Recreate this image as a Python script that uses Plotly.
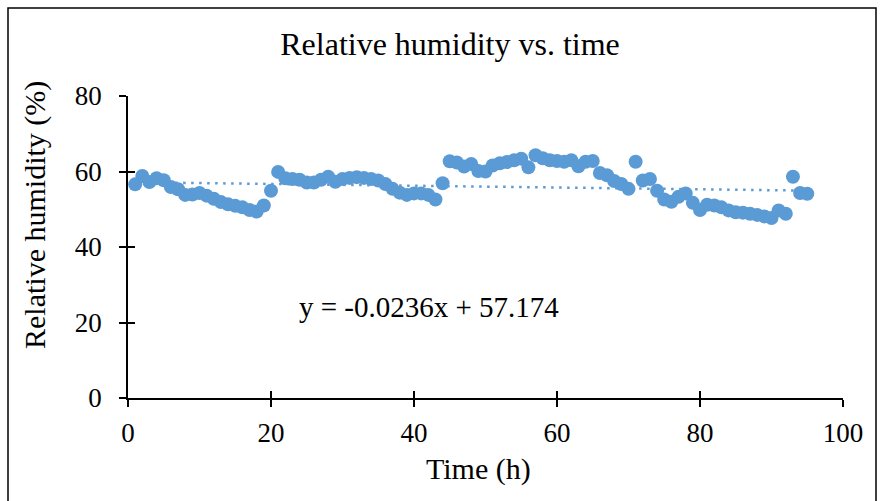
import plotly.graph_objects as go

# Hourly relative humidity readings
time_h = list(range(1, 96))
humidity = [
    56.6, 58.8, 57.2, 58.2, 57.7, 55.9, 55.3, 53.8, 53.9, 54.3,
    53.6, 52.8, 51.9, 51.3, 50.9, 50.5, 49.8, 49.4, 51.0, 54.9,
    59.9, 58.2, 58.0, 57.8, 57.1, 57.1, 57.8, 58.6, 57.3, 58.0,
    58.3, 58.5, 58.3, 58.0, 57.6, 56.7, 55.4, 54.4, 53.8, 54.2,
    54.2, 53.8, 52.6, 56.9, 62.7, 62.4, 61.3, 62.0, 60.1, 60.0,
    61.6, 62.2, 62.5, 63.0, 63.4, 61.1, 64.3, 63.5, 63.0, 62.8,
    62.6, 63.0, 61.4, 62.6, 62.8, 59.6, 59.0, 57.5, 56.7, 55.4,
    62.6, 57.6, 58.0, 54.9, 52.6, 52.0, 53.3, 54.2, 51.7, 49.8,
    51.2, 51.0, 50.5, 49.7, 49.2, 49.1, 48.8, 48.5, 48.1, 47.7,
    49.7, 48.8, 58.6, 54.3, 54.1,
]

# Linear trendline coefficients
trend_slope = -0.0236
trend_intercept = 57.174

x_ticks = [0, 20, 40, 60, 80, 100]
y_ticks = [0, 20, 40, 60, 80]

blue = "#5B9BD5"
font_family = "Liberation Serif, Times New Roman, serif"

# plot-area geometry in pixels
L, R, T, B = 128, 843, 96, 398
W, H = R - L, B - T


def px(xp):
    return (xp - L) / W


def py(yp):
    return (B - yp) / H


trend_x = [min(time_h), max(time_h)]
trend_y = [trend_slope * t + trend_intercept for t in trend_x]

fig = go.Figure()
fig.add_trace(go.Scatter(
    x=trend_x, y=trend_y, mode="lines",
    line=dict(color=blue, width=2.5, dash="2.5px,5.5px"),
    showlegend=False, hoverinfo="skip",
))
fig.add_trace(go.Scatter(
    x=time_h, y=humidity, mode="markers",
    marker=dict(color=blue, size=14, line=dict(width=0)),
    showlegend=False,
))
# invisible trace on the overlay axes so the inward ticks render
fig.add_trace(go.Scatter(
    x=[0], y=[0], xaxis="x2", yaxis="y2", mode="markers",
    marker=dict(opacity=0), showlegend=False, hoverinfo="skip",
))

axis_common = dict(
    showgrid=False, zeroline=False, showline=True,
    linecolor="black", linewidth=1.5,
    ticks="outside", ticklen=7, tickwidth=1.5, tickcolor="black",
    tickfont=dict(family=font_family, size=27, color="black"),
)

fig.update_layout(
    width=881, height=501,
    margin=dict(l=L, r=881 - R, t=T, b=501 - B),
    paper_bgcolor="white", plot_bgcolor="white",
    font=dict(family=font_family, color="black"),
    title=dict(
        text="Relative humidity vs. time",
        x=450 / 881, xanchor="center",
        y=1 - 44 / 501, yanchor="middle",
        font=dict(family=font_family, size=32, color="black"),
    ),
    xaxis=dict(
        range=[0, 100], tickvals=x_ticks, ticklabelstandoff=3,
        **axis_common,
    ),
    yaxis=dict(
        range=[0, 80], tickvals=y_ticks, ticklabelstandoff=12,
        **axis_common,
    ),
    xaxis2=dict(
        overlaying="x", matches="x", range=[0, 100], tickvals=x_ticks,
        showticklabels=False, showgrid=False, zeroline=False, showline=False,
        ticks="inside", ticklen=7, tickwidth=1.5, tickcolor="black",
        anchor="y2", side="bottom",
    ),
    yaxis2=dict(
        overlaying="y", matches="y", range=[0, 80], tickvals=y_ticks,
        showticklabels=False, showgrid=False, zeroline=False, showline=False,
        ticks="inside", ticklen=7, tickwidth=1.5, tickcolor="black",
        anchor="x2", side="left",
    ),
    annotations=[
        dict(
            text="Time (h)", xref="paper", yref="paper",
            x=px(478), y=py(469),
            xanchor="center", yanchor="middle", showarrow=False,
            font=dict(family=font_family, size=30, color="black"),
        ),
        dict(
            text="Relative humidity (%)", xref="paper", yref="paper",
            x=px(35), y=py(215), textangle=-90,
            xanchor="center", yanchor="middle", showarrow=False,
            font=dict(family=font_family, size=30, color="black"),
        ),
        dict(
            text="y = -0.0236x + 57.174", xref="paper", yref="paper",
            x=px(429), y=py(307), xanchor="center", yanchor="middle",
            showarrow=False,
            font=dict(family=font_family, size=29, color="black"),
        ),
    ],
    shapes=[
        dict(
            type="rect", xref="paper", yref="paper",
            x0=px(8), x1=px(876), y0=py(520), y1=py(8),
            line=dict(color="black", width=1.5), fillcolor="rgba(0,0,0,0)",
            layer="below",
        ),
    ],
)

fig.write_html("out.html")
